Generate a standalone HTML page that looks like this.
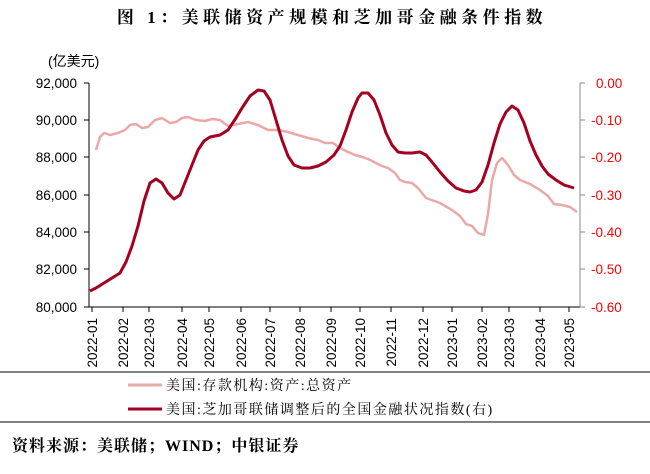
<!DOCTYPE html>
<html><head><meta charset="utf-8"><style>
body{margin:0;background:#fff;width:650px;height:474px;overflow:hidden}
</style></head><body>
<svg width="650" height="474" xmlns="http://www.w3.org/2000/svg" style="position:absolute;left:0;top:0">
<text x="332" y="23" text-anchor="middle" font-family="'Liberation Serif','Noto Serif CJK SC',serif" font-size="17" font-weight="bold" letter-spacing="4.5">图 1：美联储资产规模和芝加哥金融条件指数</text>
<text x="48" y="66" font-family="'Liberation Sans','Noto Sans CJK SC',sans-serif" font-size="14">(亿美元)</text>
<g font-family="'Liberation Sans',sans-serif" font-size="13.5" text-anchor="end">
<text x="77" y="88">92,000</text><text x="77" y="125">90,000</text><text x="77" y="162">88,000</text><text x="77" y="200">86,000</text><text x="77" y="237">84,000</text><text x="77" y="274">82,000</text><text x="77" y="312">80,000</text>
</g>
<g font-family="'Liberation Sans',sans-serif" font-size="13.5" fill="#f00">
<text x="596" y="88">0.00</text><text x="591" y="125">-0.10</text><text x="591" y="162">-0.20</text><text x="591" y="200">-0.30</text><text x="591" y="237">-0.40</text><text x="591" y="274">-0.50</text><text x="591" y="312">-0.60</text>
</g>
<g stroke="#000" stroke-width="1">
<line x1="89" y1="83" x2="89" y2="307"/>
<line x1="89" y1="307" x2="580" y2="307"/>
<line x1="84" y1="83" x2="89" y2="83"/><line x1="84" y1="120" x2="89" y2="120"/><line x1="84" y1="157" x2="89" y2="157"/><line x1="84" y1="195" x2="89" y2="195"/><line x1="84" y1="232" x2="89" y2="232"/><line x1="84" y1="269" x2="89" y2="269"/><line x1="84" y1="307" x2="89" y2="307"/>
</g>
<g stroke="#888" stroke-width="1">
<line x1="580" y1="83" x2="580" y2="307"/>
<line x1="580" y1="83" x2="585" y2="83"/><line x1="580" y1="120" x2="585" y2="120"/><line x1="580" y1="157" x2="585" y2="157"/><line x1="580" y1="195" x2="585" y2="195"/><line x1="580" y1="232" x2="585" y2="232"/><line x1="580" y1="269" x2="585" y2="269"/><line x1="580" y1="307" x2="585" y2="307"/>
</g>
<g stroke="#000" stroke-width="1">
<line x1="92" y1="307" x2="92" y2="312"/><line x1="123" y1="307" x2="123" y2="312"/><line x1="149" y1="307" x2="149" y2="312"/><line x1="182" y1="307" x2="182" y2="312"/><line x1="209" y1="307" x2="209" y2="312"/><line x1="241" y1="307" x2="241" y2="312"/><line x1="270" y1="307" x2="270" y2="312"/><line x1="300" y1="307" x2="300" y2="312"/><line x1="331" y1="307" x2="331" y2="312"/><line x1="360" y1="307" x2="360" y2="312"/><line x1="391" y1="307" x2="391" y2="312"/><line x1="423" y1="307" x2="423" y2="312"/><line x1="452" y1="307" x2="452" y2="312"/><line x1="482" y1="307" x2="482" y2="312"/><line x1="509" y1="307" x2="509" y2="312"/><line x1="540" y1="307" x2="540" y2="312"/><line x1="569" y1="307" x2="569" y2="312"/>
</g>
<g font-family="'Liberation Sans',sans-serif" font-size="13.5" text-anchor="end">
<text transform="translate(97,318) rotate(-90)">2022-01</text>
<text transform="translate(128,318) rotate(-90)">2022-02</text>
<text transform="translate(154,318) rotate(-90)">2022-03</text>
<text transform="translate(187,318) rotate(-90)">2022-04</text>
<text transform="translate(214,318) rotate(-90)">2022-05</text>
<text transform="translate(246,318) rotate(-90)">2022-06</text>
<text transform="translate(275,318) rotate(-90)">2022-07</text>
<text transform="translate(305,318) rotate(-90)">2022-08</text>
<text transform="translate(336,318) rotate(-90)">2022-09</text>
<text transform="translate(365,318) rotate(-90)">2022-10</text>
<text transform="translate(396,318) rotate(-90)">2022-11</text>
<text transform="translate(428,318) rotate(-90)">2022-12</text>
<text transform="translate(457,318) rotate(-90)">2023-01</text>
<text transform="translate(487,318) rotate(-90)">2023-02</text>
<text transform="translate(514,318) rotate(-90)">2023-03</text>
<text transform="translate(545,318) rotate(-90)">2023-04</text>
<text transform="translate(574,318) rotate(-90)">2023-05</text>
</g>
<polyline fill="none" stroke="#eaa8a6" stroke-width="2.5" stroke-linejoin="round" points="96,150 100,137 104,133 110,135 118,133 125,130 130,125 136,124 142,128 148,127 155,120 162,118 170,123 176,122 182,118 188,117 196,120 205,121 212,119 220,120 228,126 238,124 248,122 258,125 268,130 278,130 288,132 298,135 308,138 318,140 325,143 333,143 340,148 348,152 355,155 362,157 368,159 376,163 382,166 388,168 395,173 400,180 405,182 412,183 418,188 426,198 440,203 452,210 460,216 466,224 472,226 478,233 484,235 488,214 492,180 497,163 502,158 508,165 514,175 520,180 530,184 540,190 548,196 554,204 562,205 570,207 577,212"/>
<polyline fill="none" stroke="#a50021" stroke-width="3" stroke-linejoin="round" points="90,291 96,288 104,283 112,278 120,273 126,262 132,246 138,226 144,201 150,183 156,179 162,183 168,193 174,199 180,195 186,180 192,165 198,150 204,141 210,137 220,135 228,130 236,118 242,108 250,96 258,90 264,91 270,100 276,120 282,140 288,156 294,165 302,168 310,168 318,166 326,162 334,155 340,146 346,130 352,112 358,98 362,93 368,93 374,100 380,115 386,133 392,145 398,152 405,153 412,153 420,152 426,155 432,162 440,172 448,181 456,188 464,191 470,192 476,190 482,182 488,165 494,143 500,124 506,112 512,106 518,110 524,123 530,141 536,155 542,166 548,174 556,180 564,185 574,188"/>
<line x1="0" y1="372" x2="650" y2="372" stroke="#000"/>
<line x1="0" y1="422" x2="650" y2="422" stroke="#000"/>
<line x1="128" y1="385" x2="162" y2="385" stroke="#eaa8a6" stroke-width="3"/>
<line x1="128" y1="409" x2="162" y2="409" stroke="#a50021" stroke-width="3"/>
<g font-family="'Liberation Serif','Noto Serif CJK SC',serif" font-size="14" letter-spacing="1.5">
<text x="166" y="390">美国:存款机构:资产:总资产</text>
<text x="166" y="414">美国:芝加哥联储调整后的全国金融状况指数(右)</text>
</g>
<text x="12" y="451" font-family="'Liberation Serif','Noto Serif CJK SC',serif" font-size="16" font-weight="bold" letter-spacing="1">资料来源：美联储；WIND；中银证券</text>
</svg>
</body></html>
